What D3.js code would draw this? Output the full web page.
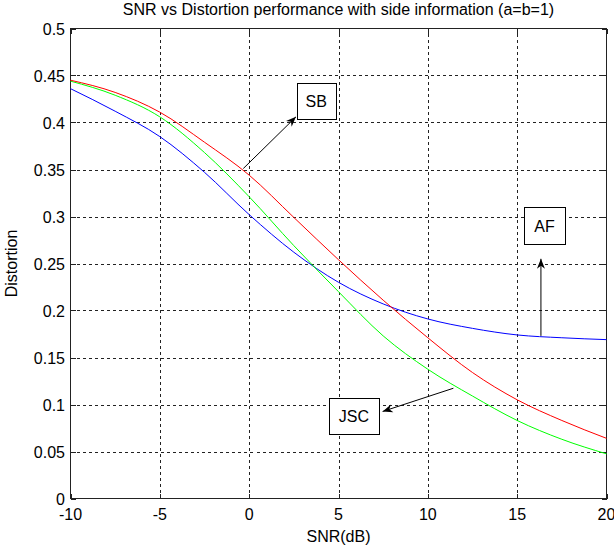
<!DOCTYPE html>
<html>
<head>
<meta charset="utf-8">
<script src="https://cdn.jsdelivr.net/npm/d3@7"></script>
<style>
  body { margin: 0; background: #fff; }
  text { font-family: Arial, "Liberation Sans", sans-serif; fill: #000; }
</style>
</head>
<body>
<script>
// values
const snr = [-10, -7.5, -5, -2.5, 0, 2.5, 5, 7.5, 10, 12.5, 15, 17.5, 20];
const sbValues = [0.445, 0.432, 0.411, 0.379, 0.344, 0.299, 0.254, 0.211, 0.171, 0.134, 0.105, 0.083, 0.064];
const jscValues = [0.444, 0.429, 0.406, 0.368, 0.321, 0.269, 0.220, 0.173, 0.1375, 0.109, 0.083, 0.063, 0.0475];
const afValues = [0.436, 0.412, 0.385, 0.347, 0.302, 0.262, 0.230, 0.207, 0.191, 0.181, 0.174, 0.171, 0.169];

const xTicks = [-10, -5, 0, 5, 10, 15, 20];
const yTicks = [0, 0.05, 0.1, 0.15, 0.2, 0.25, 0.3, 0.35, 0.4, 0.45, 0.5];
const yTickLabels = ['0', '0.05', '0.1', '0.15', '0.2', '0.25', '0.3', '0.35', '0.4', '0.45', '0.5'];

// text arrows, in data units (box corners and arrow ends)
const notes = [
  { label: 'SB', x0: 2.66, x1: 4.84, y0: 0.4415, y1: 0.4032, from: [-0.33, 0.351], to: [2.62, 0.406] },
  { label: 'AF', x0: 15.38, x1: 17.68, y0: 0.310, y1: 0.2705, from: [16.33, 0.173], to: [16.33, 0.255] },
  { label: 'JSC', x0: 4.47, x1: 7.25, y0: 0.107, y1: 0.0691, from: [11.43, 0.1173], to: [7.47, 0.0926] }
];

const width = 614;
const height = 552;

const svg = d3.select('body')
  .append('svg')
  .attr('width', width)
  .attr('height', height);

const x = d3.scaleLinear().domain([-10, 20]).range([70.5, 606.5]);
const y = d3.scaleLinear().domain([0, 0.5]).range([498.5, 28.5]);

// arrow head
svg.append('defs').append('marker')
  .attr('id', 'head')
  .attr('markerUnits', 'userSpaceOnUse')
  .attr('viewBox', '-12 -6 14 12')
  .attr('markerWidth', 14)
  .attr('markerHeight', 12)
  .attr('refX', 0)
  .attr('refY', 0)
  .attr('orient', 'auto')
  .append('path')
  .attr('d', 'M0,0 L-10,-4 L-7,0 L-10,4 Z')
  .attr('fill', '#000');

// grid
const grid = svg.append('g')
  .attr('stroke', '#222')
  .attr('stroke-width', 1)
  .attr('stroke-dasharray', '3,3')
  .attr('shape-rendering', 'crispEdges');

xTicks.slice(1, -1).forEach(t => {
  grid.append('line')
    .attr('x1', Math.round(x(t)) + 0.5).attr('x2', Math.round(x(t)) + 0.5)
    .attr('y1', y(0)).attr('y2', y(0.5));
});
yTicks.slice(1, -1).forEach(t => {
  grid.append('line')
    .attr('x1', x(-10)).attr('x2', x(20))
    .attr('y1', Math.round(y(t)) + 0.5).attr('y2', Math.round(y(t)) + 0.5);
});

// inward ticks on all four sides
const ticks = svg.append('g')
  .attr('stroke', '#222')
  .attr('shape-rendering', 'crispEdges');
xTicks.forEach(t => {
  const px = Math.round(x(t)) + 0.5;
  ticks.append('line').attr('x1', px).attr('x2', px).attr('y1', y(0)).attr('y2', y(0) - 5);
  ticks.append('line').attr('x1', px).attr('x2', px).attr('y1', y(0.5)).attr('y2', y(0.5) + 5);
});
yTicks.forEach(t => {
  const py = Math.round(y(t)) + 0.5;
  ticks.append('line').attr('x1', x(-10)).attr('x2', x(-10) + 5).attr('y1', py).attr('y2', py);
  ticks.append('line').attr('x1', x(20)).attr('x2', x(20) - 5).attr('y1', py).attr('y2', py);
});

// box
svg.append('rect')
  .attr('x', x(-10))
  .attr('y', y(0.5))
  .attr('width', x(20) - x(-10))
  .attr('height', y(0) - y(0.5))
  .attr('fill', 'none')
  .attr('stroke', '#222')
  .attr('shape-rendering', 'crispEdges');

// curves
const series = [
  { values: afValues, color: '#0000ff' },
  { values: jscValues, color: '#00ff00' },
  { values: sbValues, color: '#ff0000' }
];

const line = d3.line()
  .x(d => x(d[0]))
  .y(d => y(d[1]))
  .curve(d3.curveMonotoneX);

series.forEach(s => {
  svg.append('path')
    .datum(snr.map((v, i) => [v, s.values[i]]))
    .attr('d', line)
    .attr('fill', 'none')
    .attr('stroke', s.color)
    .attr('stroke-width', 1);
});

// tick labels
svg.append('g')
  .selectAll('text')
  .data(xTicks)
  .join('text')
  .attr('x', d => x(d))
  .attr('y', 520)
  .attr('text-anchor', 'middle')
  .attr('font-size', 16)
  .text(d => d);

svg.append('g')
  .selectAll('text')
  .data(yTicks)
  .join('text')
  .attr('x', 65)
  .attr('y', d => y(d) + 6)
  .attr('text-anchor', 'end')
  .attr('font-size', 16)
  .text((d, i) => yTickLabels[i]);

// titles
svg.append('text')
  .attr('x', (x(-10) + x(20)) / 2)
  .attr('y', 15)
  .attr('text-anchor', 'middle')
  .attr('font-size', 16)
  .text('SNR vs Distortion performance with side information (a=b=1)');

svg.append('text')
  .attr('x', (x(-10) + x(20)) / 2)
  .attr('y', 542)
  .attr('text-anchor', 'middle')
  .attr('font-size', 16)
  .text('SNR(dB)');

svg.append('text')
  .attr('transform', `translate(17,${(y(0) + y(0.5)) / 2}) rotate(-90)`)
  .attr('text-anchor', 'middle')
  .attr('font-size', 16)
  .text('Distortion');

// annotations
notes.forEach(n => {
  svg.append('line')
    .attr('x1', x(n.from[0])).attr('y1', y(n.from[1]))
    .attr('x2', x(n.to[0])).attr('y2', y(n.to[1]))
    .attr('stroke', '#000')
    .attr('stroke-width', 1)
    .attr('marker-end', 'url(#head)');

  svg.append('rect')
    .attr('x', Math.round(x(n.x0)) + 0.5)
    .attr('y', Math.round(y(n.y0)) + 0.5)
    .attr('width', Math.round(x(n.x1) - x(n.x0)))
    .attr('height', Math.round(y(n.y1) - y(n.y0)))
    .attr('fill', '#fff')
    .attr('stroke', '#000')
    .attr('shape-rendering', 'crispEdges');

  svg.append('text')
    .attr('x', (x(n.x0) + x(n.x1)) / 2)
    .attr('y', (y(n.y0) + y(n.y1)) / 2 + 6)
    .attr('text-anchor', 'middle')
    .attr('font-size', 16)
    .text(n.label);
});
</script>
</body>
</html>
